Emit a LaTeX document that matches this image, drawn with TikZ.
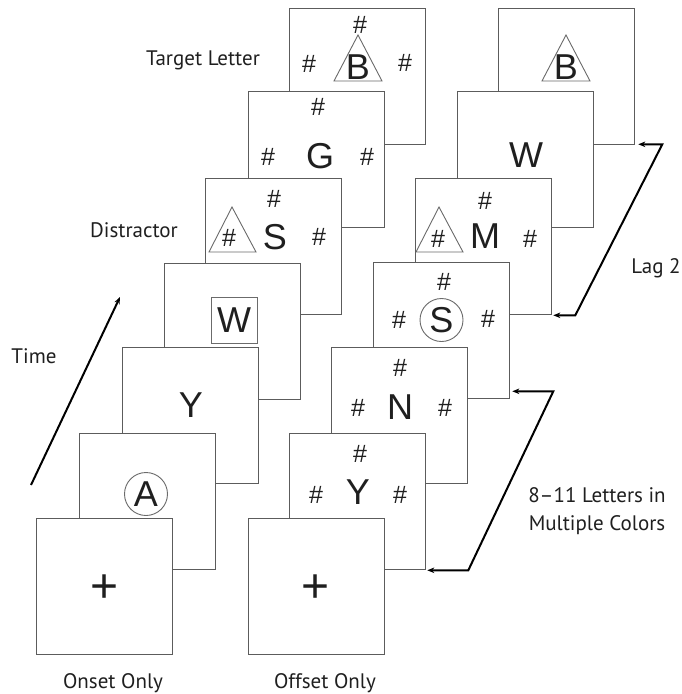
\documentclass[tikz,border=0pt]{standalone}
\usepackage{fontspec}
\setmainfont{Liberation Sans}
\newfontfamily\labfont{PT Sans}
\usetikzlibrary{arrows.meta,calc}
\definecolor{framegray}{gray}{0.36}
\definecolor{markgray}{gray}{0.42}
\definecolor{inkc}{gray}{0.12}
\begin{document}
\begin{tikzpicture}[x=1pt,y=-1pt,
  frame/.style={draw=framegray,line width=1.3pt,fill=white,minimum width=136pt,minimum height=136pt,inner sep=0pt,anchor=north west},
  let/.style={font=\fontsize{36}{36}\selectfont,text=inkc,inner sep=0pt},
  hsh/.style={font=\fontsize{25}{25}\selectfont,text=inkc,inner sep=0pt},
  fix/.style={font=\fontsize{48}{48}\selectfont,text=inkc,inner sep=0pt},
  markline/.style={draw=markgray,line width=0.9pt},
  circled/.style={markline,circle,minimum size=43pt},
  boxed/.style={markline,rectangle,minimum size=46pt},
  lab/.style={font=\labfont\fontsize{21}{28}\selectfont,text=inkc,inner sep=0pt,anchor=base},
  conn/.style={draw=black,line width=2pt,line join=miter},
  tip/.style={{Stealth[length=7pt,width=5.5pt]}-{Stealth[length=7pt,width=5.5pt]}}
]
\useasboundingbox (0,0) rectangle (681,694);

% ---------- left stack (Onset Only) ----------
\node[frame] (l7) at (289,8) {};
\draw[markline] (358,35) -- (382,81) -- (334,81) -- cycle;
\node[hsh] (l7t) at (360,25) {\#};
\node[hsh] (l7l) at (309,64) {\#};
\node[let] (l7b) at (358,67) {B};
\node[hsh] (l7r) at (405,63) {\#};

\node[frame] (l6) at (248,91) {};
\node[hsh] (l6t) at (318,107) {\#};
\node[hsh] (l6l) at (268,157) {\#};
\node[let] (l6g) at (320,156) {G};
\node[hsh] (l6r) at (367,157) {\#};

\node[frame] (l5) at (205,178) {};
\draw[markline] (232,207) -- (256,252) -- (209,252) -- cycle;
\node[hsh] (l5t) at (274,199) {\#};
\node[hsh] (l5l) at (229,238) {\#};
\node[let] (l5s) at (275,237) {S};
\node[hsh] (l5r) at (319,237) {\#};

\node[frame] (l4) at (164,263) {};
\node[let,boxed] (l4w) at (234,320) {W};

\node[frame] (l3) at (122,347) {};
\node[let] (l3y) at (191,405) {Y};

\node[frame] (l2) at (79,433) {};
\node[let,circled] (l2a) at (146,494) {A};

\node[frame] (l1) at (36,518) {};
\node[fix] (l1p) at (105,589) {+};

% ---------- right stack (Offset Only) ----------
\node[frame] (r7) at (498,8) {};
\draw[markline] (566,35) -- (590,81) -- (542,81) -- cycle;
\node[let] (r7b) at (566,67) {B};

\node[frame] (r6) at (457,91) {};
\node[let] (r6w) at (526,155) {W};

\node[frame] (r5) at (415,178) {};
\draw[markline] (439,207) -- (463,252) -- (416,252) -- cycle;
\node[hsh] (r5t) at (485,201) {\#};
\node[hsh] (r5l) at (438,239) {\#};
\node[let] (r5m) at (485,236) {M};
\node[hsh] (r5r) at (530,239) {\#};

\node[frame] (r4) at (373,262) {};
\node[hsh] (r4t) at (444,282) {\#};
\node[hsh] (r4l) at (399,320) {\#};
\node[let,circled] (r4s) at (441.5,320) {S};
\node[hsh] (r4r) at (488,319) {\#};

\node[frame] (r3) at (331,347) {};
\node[hsh] (r3t) at (400,368) {\#};
\node[hsh] (r3l) at (358,408) {\#};
\node[let] (r3n) at (400,407) {N};
\node[hsh] (r3r) at (445,408) {\#};

\node[frame] (r2) at (289,433) {};
\node[hsh] (r2t) at (360,454) {\#};
\node[hsh] (r2l) at (316,495) {\#};
\node[let] (r2y) at (358,492) {Y};
\node[hsh] (r2r) at (400,495) {\#};

\node[frame] (r1) at (248,518) {};
\node[fix] (r1p) at (316,589) {+};

% ---------- connectors ----------
\coordinate (timeA) at (31,485);
\coordinate (timeB) at (120,297);
\draw[conn,-{Stealth[length=7pt,width=5.5pt]}] (timeA) -- (timeB);

\draw[conn,tip] ([xshift=3pt,yshift=1pt]r7.south east) -- ++(24,0)
  -- ([xshift=23pt]r5.south east) -- ([xshift=1pt]r5.south east);

\draw[conn,tip] ([xshift=2pt,yshift=8pt]r4.south east) -- ++(41,0)
  -- ([xshift=42pt]r2.south east) -- ([xshift=1pt]r2.south east);

% ---------- labels ----------
\node[lab] (tl) at (203,65) {Target Letter};
\node[lab] (dl) at (134,237) {Distractor};
\node[lab] (ti) at (34,363) {Time};
\node[lab] (lg) at (656,273) {Lag 2};
\node[lab,anchor=north,align=center] (ml) at (597,487) {8–11 Letters in\\Multiple Colors};
\node[lab] (on) at (113,688) {Onset Only};
\node[lab] (off) at (325,688) {Offset Only};
\end{tikzpicture}
\end{document}
